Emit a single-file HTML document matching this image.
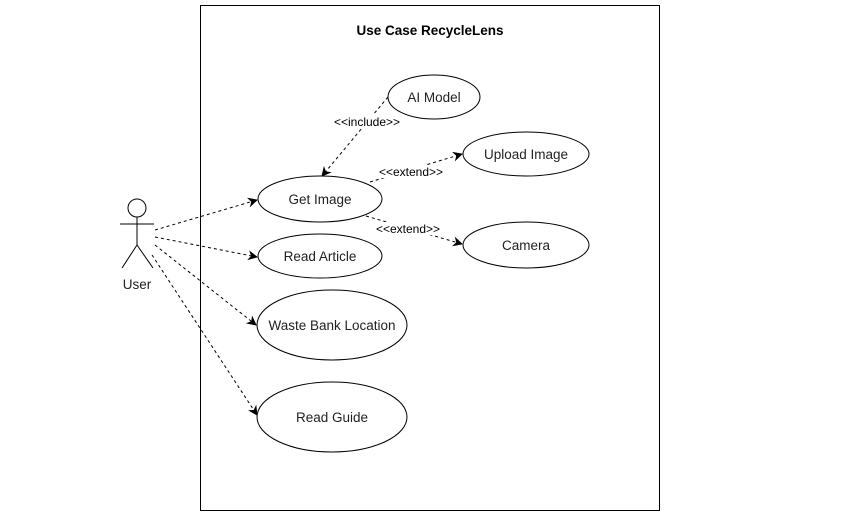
<!DOCTYPE html>
<html><head><style>html,body{margin:0;padding:0;background:#fff;}svg{display:block}</style></head>
<body>
<svg width="854" height="516" xmlns="http://www.w3.org/2000/svg" font-family="Liberation Sans, Arial, sans-serif">
<defs><marker id="a" markerWidth="10" markerHeight="10" refX="9" refY="5" orient="auto" markerUnits="userSpaceOnUse"><path d="M0,0 L10,5 L0,10 L3,5 Z" fill="#000"/></marker></defs>
<rect x="200.5" y="5.5" width="459" height="505" fill="#fff" stroke="#000" stroke-width="1"/>
<text x="430" y="35" font-size="13.5" font-weight="bold" text-anchor="middle">Use Case RecycleLens</text>
<g fill="#fff" stroke="#000" stroke-width="1">
<ellipse cx="434" cy="97" rx="46" ry="22"/>
<ellipse cx="526" cy="154" rx="63" ry="22"/>
<ellipse cx="320" cy="199" rx="62" ry="23"/>
<ellipse cx="526" cy="245" rx="63" ry="23"/>
<ellipse cx="320" cy="256" rx="62" ry="22"/>
<ellipse cx="332" cy="325" rx="75" ry="35"/>
<ellipse cx="332" cy="417" rx="75" ry="35"/>
<circle cx="137" cy="208" r="9"/>
</g>
<g stroke="#000" stroke-width="1" fill="none">
<line x1="137" y1="217" x2="137" y2="245"/><line x1="120" y1="224" x2="154" y2="224"/>
<line x1="137" y1="245" x2="122" y2="268"/><line x1="137" y1="245" x2="153" y2="268"/>
</g>
<g stroke="#000" stroke-width="1" fill="none" stroke-dasharray="3,3" marker-end="url(#a)">
<line x1="155" y1="230" x2="257" y2="200"/>
<line x1="155" y1="237" x2="257" y2="257"/>
<line x1="155" y1="245" x2="256" y2="325"/>
<line x1="152" y1="255" x2="257" y2="415"/>
<line x1="388" y1="97" x2="322" y2="176"/>
<line x1="370" y1="182" x2="462" y2="154"/>
<line x1="366" y1="216" x2="462" y2="244"/>
</g>
<g font-size="12" text-anchor="middle">
<rect x="332" y="115" width="70" height="13" fill="#fff"/>
<text x="367" y="126">&lt;&lt;include&gt;&gt;</text>
<rect x="376" y="165" width="70" height="13" fill="#fff"/>
<text x="411" y="176">&lt;&lt;extend&gt;&gt;</text>
<rect x="373" y="222" width="70" height="13" fill="#fff"/>
<text x="408" y="233">&lt;&lt;extend&gt;&gt;</text>
</g>
<g font-size="13.5" text-anchor="middle" fill="#222">
<text x="434" y="102">AI Model</text>
<text x="526" y="159">Upload Image</text>
<text x="320" y="204">Get Image</text>
<text x="526" y="250">Camera</text>
<text x="320" y="261">Read Article</text>
<text x="332" y="330">Waste Bank Location</text>
<text x="332" y="422">Read Guide</text>
<text x="137" y="289">User</text>
</g>
</svg>
</body></html>
